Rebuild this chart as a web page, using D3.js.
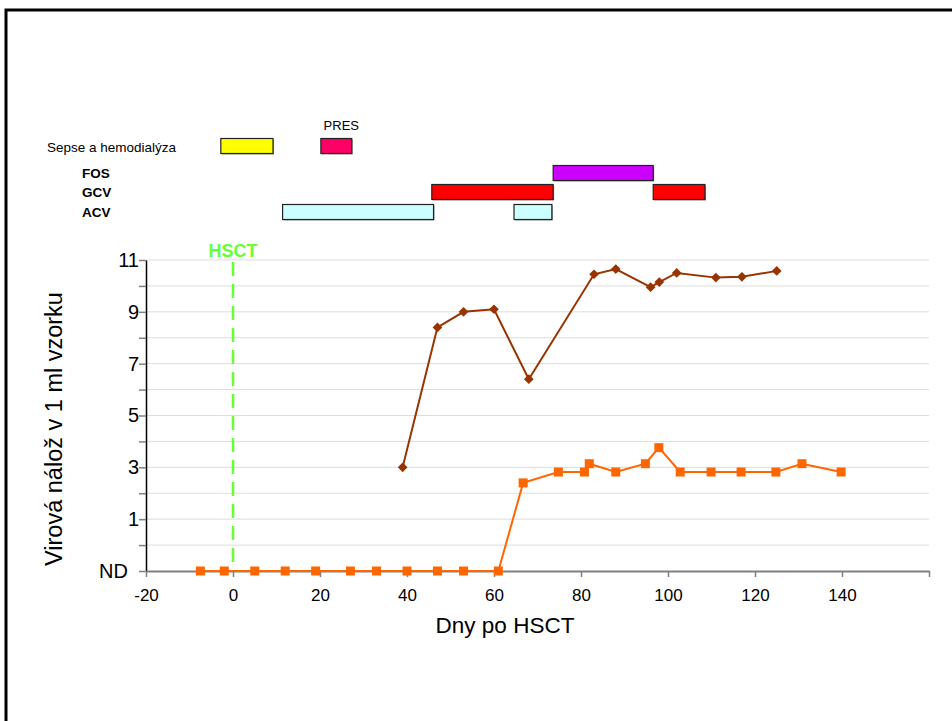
<!DOCTYPE html>
<html>
<head>
<meta charset="utf-8">
<script src="https://cdn.jsdelivr.net/npm/d3@7"></script>
<style>
  html, body { margin: 0; padding: 0; background: #fff; }
  svg { display: block; font-family: "Liberation Sans", Arial, sans-serif; }
</style>
</head>
<body>
<svg id="chart" width="952" height="721"></svg>
<script>
// ---------- data ----------
// ND (not detected) is encoded as -1
const brownDays   = [39, 47, 53, 60, 68, 83, 88, 96, 98, 102, 111, 117, 125];
const brownValues = [3.0, 8.4, 9.0, 9.1, 6.4, 10.45, 10.65, 9.95, 10.15, 10.5, 10.32, 10.35, 10.58];

const orangeDays   = [-7.5, -2, 5, 12, 19, 27, 33, 40, 47, 53, 61, 66.7, 74.8, 80.8, 81.9, 88, 94.8, 97.9, 102.8, 109.9, 116.8, 124.8, 130.8, 139.8];
const orangeValues = [-1, -1, -1, -1, -1, -1, -1, -1, -1, -1, -1, 2.4, 2.82, 2.82, 3.14, 2.82, 3.14, 3.76, 2.82, 2.82, 2.82, 2.82, 3.14, 2.82];

const xTicks = [-20, 0, 20, 40, 60, 80, 100, 120, 140, 160];
const xTickLabels = ["-20", "0", "20", "40", "60", "80", "100", "120", "140", ""];
const yTicks = [-1, 0, 1, 2, 3, 4, 5, 6, 7, 8, 9, 10, 11];
const yTickLabels = ["ND\u00a0\u00a0", "", "1", "", "3", "", "5", "", "7", "", "9", "", "11"];

const barRows   = ["Sepse", "PRES", "FOS", "GCV", "GCV", "ACV", "ACV"];
const barStarts = [-2.8, 20.2, 73.6, 45.7, 96.6, 11.4, 64.6];
const barEnds   = [9.2, 27.3, 96.6, 73.6, 108.5, 46.1, 73.3];
const barColors = ["#FFFF00", "#FF0066", "#CC00FF", "#FF0000", "#FF0000", "#CCFFFF", "#CCFFFF"];

const rowNames  = ["Sepse", "PRES", "FOS", "GCV", "ACV"];
const rowLabels = ["Sepse a hemodialýza", "", "FOS", "GCV", "ACV"];

const hsctDay = 0;

// ---------- layout ----------
const svg = d3.select("#chart");
const x = d3.scaleLinear().domain([-20, 160]).range([146, 929]);
const y = d3.scaleLinear().domain([-1, 11]).range([571, 260]);
const rowY = d3.scaleOrdinal().domain(rowNames).range([146, 146, 173, 192, 212]);
const barH = 15;

// outer frame (only left and top visible)
svg.append("rect").attr("x", 6).attr("y", 10).attr("width", 960).attr("height", 730)
  .attr("fill", "none").attr("stroke", "#000").attr("stroke-width", 3);

// gridlines
svg.append("g").selectAll("line").data(yTicks.filter(d => d > -1)).join("line")
  .attr("x1", x(-20)).attr("x2", x(160))
  .attr("y1", d => y(d)).attr("y2", d => y(d))
  .attr("stroke", "#dddddd").attr("stroke-width", 1);

// y axis
const yAxis = d3.axisLeft(y).tickValues(yTicks).tickSize(7).tickSizeOuter(0)
  .tickFormat((d, i) => yTickLabels[i]);
const gy = svg.append("g").attr("transform", `translate(${x(-20)},0)`).call(yAxis);
gy.select(".domain").attr("stroke", "#000").attr("stroke-width", 1.5);
gy.selectAll(".tick line").attr("stroke", "#808080").attr("stroke-width", 1.5);
gy.selectAll(".tick text").attr("font-size", 20).attr("fill", "#000")
  .attr("font-family", "Liberation Sans, Arial, sans-serif").attr("x", -7);

// x axis
const xAxis = d3.axisBottom(x).tickValues(xTicks).tickSize(6).tickSizeOuter(0)
  .tickFormat((d, i) => xTickLabels[i]);
const gx = svg.append("g").attr("transform", `translate(0,${y(-1)})`).call(xAxis);
gx.select(".domain").attr("stroke", "#808080").attr("stroke-width", 2);
gx.selectAll(".tick line").attr("stroke", "#808080").attr("stroke-width", 1.5);
gx.selectAll(".tick text").attr("font-size", 17).attr("fill", "#000")
  .attr("font-family", "Liberation Sans, Arial, sans-serif").attr("dy", "1.25em");

// axis titles
svg.append("text").attr("x", 505).attr("y", 633).attr("text-anchor", "middle")
  .attr("font-size", 22.5).text("Dny po HSCT");
svg.append("text").attr("transform", "translate(62,429) rotate(-90)")
  .attr("text-anchor", "middle").attr("font-size", 23.5).text("Virová nálož v 1 ml vzorku");

// HSCT line
svg.append("line").attr("x1", x(hsctDay)).attr("x2", x(hsctDay))
  .attr("y1", 262).attr("y2", y(-1))
  .attr("stroke", "#66FF33").attr("stroke-width", 2.5).attr("stroke-dasharray", "14,8");
svg.append("text").attr("x", x(hsctDay)).attr("y", 257).attr("text-anchor", "middle")
  .attr("font-size", 18).attr("font-weight", "bold").attr("fill", "#66FF33").text("HSCT");

// series lines
const line = d3.line().x(d => x(d[0])).y(d => y(d[1]));
const brown = brownDays.map((d, i) => [d, brownValues[i]]);
const orange = orangeDays.map((d, i) => [d, orangeValues[i]]);

svg.append("path").datum(orange).attr("d", line).attr("fill", "none")
  .attr("stroke", "#FF6600").attr("stroke-width", 2);
svg.append("g").selectAll("rect").data(orange).join("rect")
  .attr("x", d => x(d[0]) - 4.5).attr("y", d => y(d[1]) - 4.5)
  .attr("width", 9).attr("height", 9).attr("fill", "#FF6600");

svg.append("path").datum(brown).attr("d", line).attr("fill", "none")
  .attr("stroke", "#993300").attr("stroke-width", 2);
const diamond = d3.symbol().type(d3.symbolDiamond2).size(60);
svg.append("g").selectAll("path").data(brown).join("path")
  .attr("transform", d => `translate(${x(d[0])},${y(d[1])})`)
  .attr("d", diamond).attr("fill", "#993300");

// treatment bars
const bars = barRows.map((r, i) => ({ row: r, s: barStarts[i], e: barEnds[i], c: barColors[i] }));
svg.append("g").selectAll("rect").data(bars).join("rect")
  .attr("x", d => x(d.s) + 1).attr("y", d => rowY(d.row) - barH / 2 + 1)
  .attr("width", d => x(d.e) - x(d.s)).attr("height", barH)
  .attr("fill", "#9a9a9a");
svg.append("g").selectAll("rect").data(bars).join("rect")
  .attr("x", d => x(d.s)).attr("y", d => rowY(d.row) - barH / 2)
  .attr("width", d => x(d.e) - x(d.s)).attr("height", barH)
  .attr("fill", d => d.c).attr("stroke", "#222").attr("stroke-width", 1.2);

// row labels
svg.append("text").attr("x", 47).attr("y", 152).attr("font-size", 13.5).text(rowLabels[0]);
["FOS", "GCV", "ACV"].forEach(r => {
  svg.append("text").attr("x", 82).attr("y", rowY(r) + 4.5).attr("font-size", 13.5)
    .attr("font-weight", "bold").text(rowLabels[rowNames.indexOf(r)]);
});
svg.append("text").attr("x", x((barStarts[1] + barEnds[1]) / 2) + 5).attr("y", 130)
  .attr("text-anchor", "middle").attr("font-size", 13).text("PRES");
</script>
</body>
</html>
